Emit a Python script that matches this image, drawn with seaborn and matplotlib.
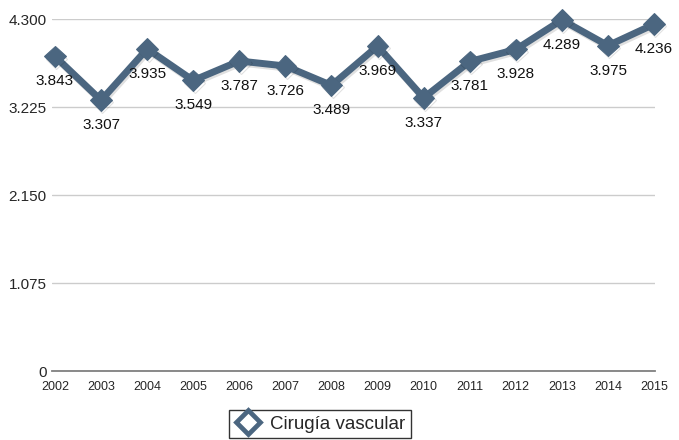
import matplotlib
matplotlib.use('Agg')
import matplotlib.pyplot as plt
import matplotlib.patheffects as pe
from matplotlib.lines import Line2D
import seaborn as sns

# data
years = [2002, 2003, 2004, 2005, 2006, 2007, 2008, 2009, 2010, 2011, 2012, 2013, 2014, 2015]
cirugia_vascular = [3843, 3307, 3935, 3549, 3787, 3726, 3489, 3969, 3337, 3781, 3928, 4289, 3975, 4236]
y_ticks = [0, 1075, 2150, 3225, 4300]
series_name = 'Cirugía vascular'

line_color = '#4b6680'


def es_num(v):
    # spanish style thousands separator
    return f'{v:,}'.replace(',', '.')


sns.set_style('white')
plt.rcParams['font.family'] = ['Liberation Sans', 'DejaVu Sans']

fig = plt.figure(figsize=(6.79, 4.40), dpi=100)
ax = fig.add_axes([0.0766, 0.1568, 0.888, 0.80])

sns.lineplot(x=years, y=cirugia_vascular, ax=ax, color=line_color, linewidth=5,
             marker='D', markersize=11, markeredgecolor=line_color, clip_on=False,
             path_effects=[pe.SimpleLineShadow(offset=(1, -1.5), alpha=0.12), pe.Normal()],
             legend=False, zorder=5)

#data labels below each point
for x, v in zip(years, cirugia_vascular):
    ax.annotate(es_num(v), (x, v), xytext=(0, -25), textcoords='offset pixels',
                ha='center', va='center', fontsize=11, color='#111111', zorder=6)

ax.set_xlim(2001.935, 2015.02)
ax.set_ylim(0, 4300)
ax.set_xticks(years)
ax.set_xticklabels([str(y) for y in years], fontsize=9)
ax.set_yticks(y_ticks)
ax.set_yticklabels([es_num(t) for t in y_ticks], fontsize=11)
ax.tick_params(axis='both', length=0)
ax.tick_params(axis='y', pad=4)
ax.tick_params(axis='x', pad=7)

ax.grid(axis='y', color='#cccccc', linewidth=1)
ax.grid(axis='x', visible=False)
for s in ['top', 'right', 'left']:
    ax.spines[s].set_visible(False)
ax.spines['bottom'].set_color('#808080')
ax.spines['bottom'].set_linewidth(1.3)

handle = Line2D([], [], linestyle='none', marker='D', markersize=12,
                markerfacecolor='white', markeredgecolor=line_color, markeredgewidth=3.4)
leg = fig.legend([handle], [series_name], loc='center', bbox_to_anchor=(0.471, 0.036),
                 frameon=True, fancybox=False, fontsize=13.5, handletextpad=0.4,
                 borderpad=0.3, handlelength=1.5, borderaxespad=0)
leg.get_frame().set_edgecolor('black')
leg.get_frame().set_linewidth(1)

fig.savefig('out.png', dpi=100)
